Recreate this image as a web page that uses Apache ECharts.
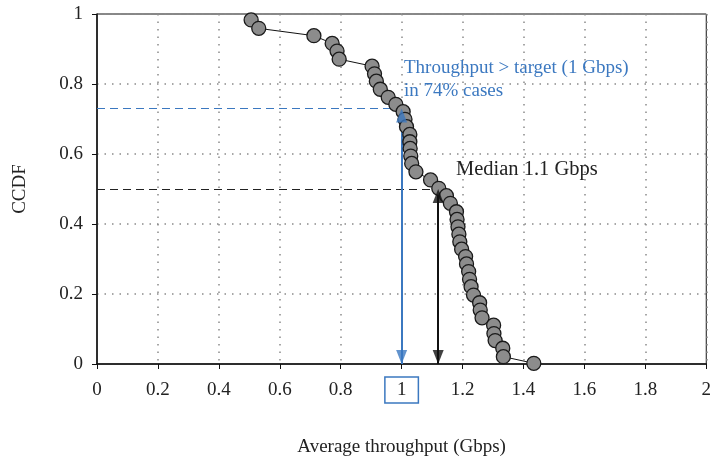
<!DOCTYPE html>
<html>
  <head>
    <meta charset="utf-8">
    <script src="https://cdn.jsdelivr.net/npm/echarts@6/dist/echarts.min.js"></script>
    <style>body{margin:0;background:#fff;}</style>
  </head>
  <body>
    <div id="main" style="width: 714px;height:463px;"></div>
    <script type="text/javascript">
      // measured points of the CCDF curve
      var throughput = [0.506, 0.531, 0.712, 0.772, 0.788, 0.795, 0.903, 0.911, 0.917, 0.930,
        0.956, 0.981, 1.005, 1.011, 1.016, 1.027, 1.027, 1.028, 1.030, 1.033,
        1.047, 1.095, 1.122, 1.147, 1.160, 1.180, 1.182, 1.185, 1.188, 1.191,
        1.197, 1.210, 1.213, 1.220, 1.223, 1.228, 1.236, 1.256, 1.258, 1.264,
        1.302, 1.303, 1.307, 1.332, 1.334, 1.434];
      var ccdf = [0.983, 0.959, 0.938, 0.916, 0.894, 0.871, 0.851, 0.829, 0.808, 0.785,
        0.762, 0.742, 0.721, 0.699, 0.678, 0.656, 0.635, 0.616, 0.594, 0.573,
        0.549, 0.526, 0.502, 0.481, 0.459, 0.435, 0.413, 0.392, 0.371, 0.349,
        0.328, 0.307, 0.286, 0.264, 0.242, 0.221, 0.197, 0.175, 0.154, 0.132,
        0.111, 0.087, 0.067, 0.045, 0.021, 0.002];

      // annotation values
      var target = 1;
      var targetShare = 0.73;
      var median = 1.12;
      var medianShare = 0.5;

      var blue = '#3b78c0';
      var dark = '#111';
      var font = 'Liberation Serif';

      var points = throughput.map(function (x, i) { return [x, ccdf[i]]; });

      var myChart = echarts.init(document.getElementById('main'));

      var dotted = { color: '#8a8a8a', width: 1.5, type: [1.5, 6] };

      function guide(x, y, color) {
        return [
          { coord: [0, y], lineStyle: { color: color, type: [8, 5], width: 1.2 } },
          { coord: [x, y] }
        ];
      }
      function stem(x, y, color) {
        return [
          { coord: [x, y], lineStyle: { color: color, type: 'solid', width: 2 } },
          { coord: [x, 0] }
        ];
      }
      var headSize = [11, 14];
      var upHeads = [
        { value: [target, targetShare], itemStyle: { color: blue } },
        { value: [median, medianShare], itemStyle: { color: dark } }
      ];
      var downHeads = [
        { value: [target, 0], itemStyle: { color: blue } },
        { value: [median, 0], itemStyle: { color: dark } }
      ];

      var option = {
        backgroundColor: '#fff',
        animation: false,
        grid: {
          left: 97, right: 3, top: 14, bottom: 99,
          show: true, borderColor: '#111', borderWidth: 1, backgroundColor: 'transparent'
        },
        xAxis: {
          type: 'value', min: 0, max: 2, interval: 0.2,
          name: 'Average throughput (Gbps)',
          nameLocation: 'middle', nameGap: 74,
          nameTextStyle: { fontFamily: font, fontSize: 19, color: '#222' },
          axisLine: { lineStyle: { color: '#111', width: 1.5 } },
          axisTick: { length: 5, lineStyle: { color: '#111' } },
          splitLine: { show: true, lineStyle: dotted },
          axisLabel: {
            margin: 13,
            formatter: function (v) {
              var s = String(+v.toFixed(1));
              return (v === target ? '{box|' : '{n|') + s + '}';
            },
            rich: {
              n: {
                fontFamily: font, fontSize: 19, color: '#222',
                padding: [4, 12, 3, 12]
              },
              box: {
                fontFamily: font, fontSize: 19, color: '#222',
                borderColor: blue, borderWidth: 1.5,
                padding: [4, 12, 3, 12]
              }
            }
          }
        },
        yAxis: {
          type: 'value', min: 0, max: 1, interval: 0.2,
          name: 'CCDF',
          nameLocation: 'middle', nameGap: 67, nameRotate: 90,
          nameTextStyle: { fontFamily: font, fontSize: 19, color: '#222' },
          axisLine: { show: true, lineStyle: { color: '#111', width: 1.5 } },
          axisTick: { show: true, length: 5, lineStyle: { color: '#111' } },
          splitLine: { show: true, lineStyle: dotted },
          axisLabel: {
            margin: 14,
            fontFamily: font, fontSize: 19, color: '#222',
            formatter: function (v) { return String(+v.toFixed(1)); }
          }
        },
        series: [
          {
            type: 'line',
            data: points,
            z: 5,
            symbol: 'circle',
            symbolSize: 14,
            lineStyle: { color: '#111', width: 1 },
            itemStyle: { color: '#8c8c8c', borderColor: '#1a1a1a', borderWidth: 1.3 }
          },
          {
            // dashed guides, under the markers
            type: 'line',
            data: [],
            z: 3,
            markLine: {
              silent: true,
              animation: false,
              symbol: 'none',
              label: { show: false },
              data: [
                guide(target, targetShare, blue),
                guide(median, medianShare, '#222')
              ]
            }
          },
          {
            // arrow stems, over the markers
            type: 'line',
            data: [],
            z: 8,
            markLine: {
              silent: true,
              animation: false,
              symbol: 'none',
              label: { show: false },
              data: [
                stem(target, targetShare, blue),
                stem(median, medianShare, dark)
              ]
            }
          },
          {
            type: 'scatter',
            data: upHeads,
            z: 9,
            silent: true,
            symbol: 'triangle',
            symbolSize: headSize,
            symbolOffset: [0, 7]
          },
          {
            type: 'scatter',
            data: downHeads,
            z: 9,
            silent: true,
            symbol: 'triangle',
            symbolSize: headSize,
            symbolRotate: 180,
            symbolOffset: [0, -7]
          }
        ],
        graphic: [
          {
            type: 'text', left: 404, top: 57, z: 10,
            style: {
              text: 'Throughput > target (1 Gbps)\nin 74% cases',
              fontFamily: font, fontSize: 19, lineHeight: 23, fill: blue
            }
          },
          {
            type: 'text', left: 456, top: 159, z: 10,
            style: {
              text: 'Median 1.1 Gbps',
              fontFamily: font, fontSize: 20.5, fill: '#222'
            }
          }
        ]
      };
      myChart.setOption(option);
    </script>
  </body>
</html>
